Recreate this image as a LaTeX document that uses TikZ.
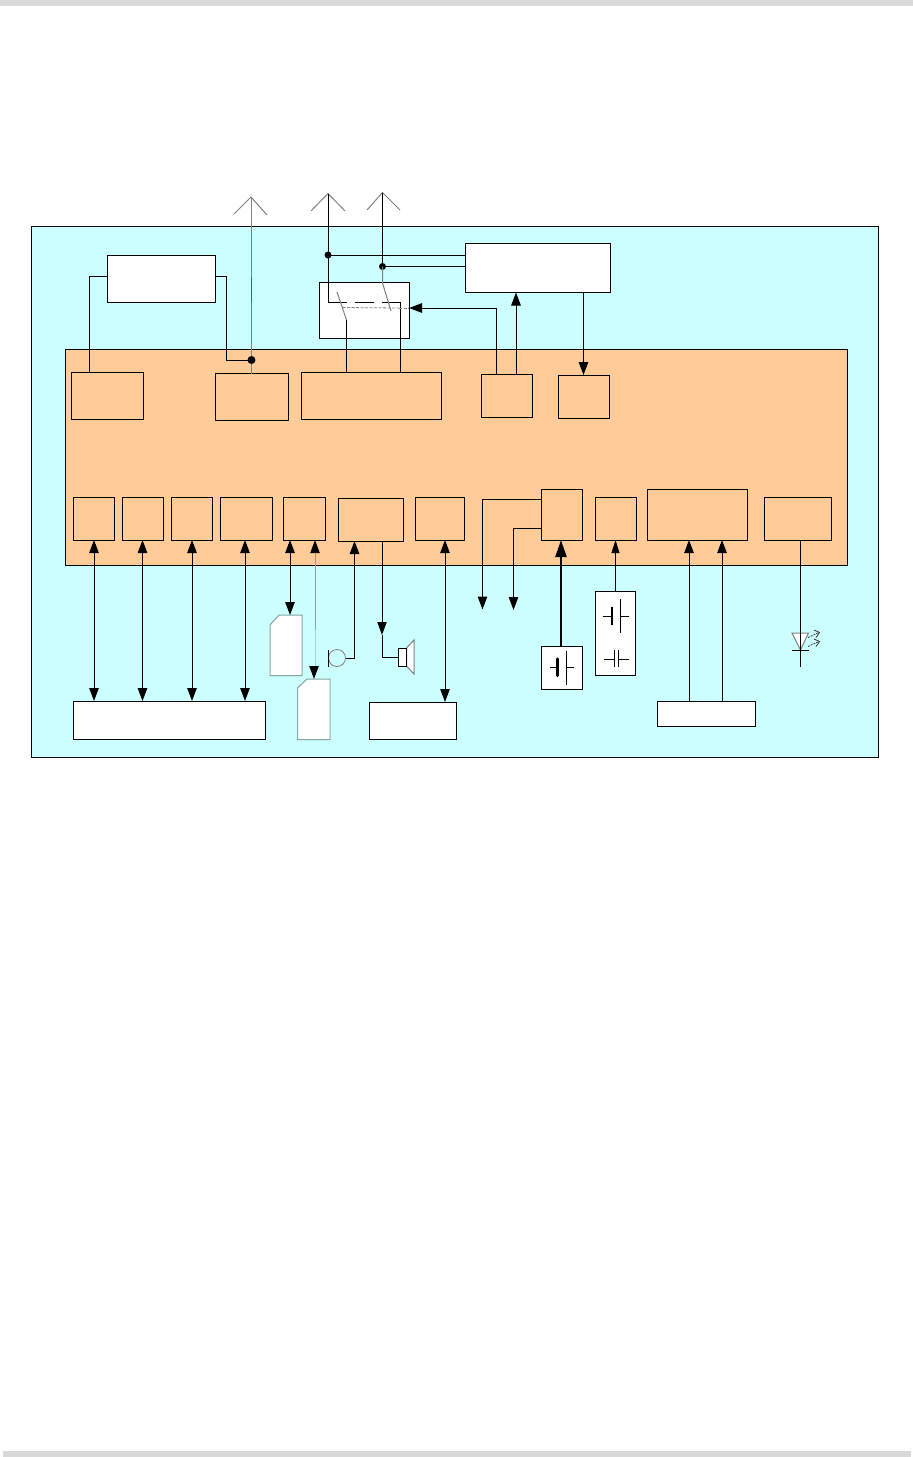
\documentclass[tikz,border=0pt]{standalone}
\usetikzlibrary{arrows.meta,calc}
\definecolor{panel}{HTML}{CCFFFF}
\definecolor{core}{HTML}{FFCC99}
\definecolor{bar}{HTML}{D9D9D9}
\definecolor{soft}{HTML}{808080}
\definecolor{softcy}{HTML}{86A3A3}
\definecolor{palecy}{HTML}{A8D4D4}
\tikzset{
  bx/.style={draw=black,line width=1pt,inner sep=0pt,outer sep=0pt,anchor=north west},
  whitebx/.style={bx,fill=white},
  corebx/.style={bx,fill=core},
  wire/.style={draw=black,line width=1pt},
  softwire/.style={draw=soft,line width=1pt},
  head/.tip={Triangle[length=13pt,width=9.5pt]},
  one/.style={wire,-{head}},
  both/.style={wire,{head}-{head}},
  dot/.style={circle,fill=black,inner sep=0pt,minimum size=#1},
  card/.style={fill=white,draw=softcy,line width=1pt,line join=miter},
}
\newcommand{\bx}[6][corebx]{\node[#1,minimum width={(#5-#3)*1pt},minimum height={(#6-#4)*1pt}] (#2) at (#3,#4) {};}
\begin{document}
\begin{tikzpicture}[x=1pt,y=-1pt]
\useasboundingbox (0,0) rectangle (913,1457);
\fill[bar] (0,0) rectangle (913,6);
\fill[bar] (3,1451) rectangle (911,1457);
\bx[bx,fill=panel]{outer}{31}{226}{878}{757}
\bx[bx,fill=core]{main}{65}{349}{847.5}{565.5}
% top row blocks
\bx{rfa}{71}{372}{143}{419}
\bx{rfb}{215}{373.5}{288}{420}
\bx{rfc}{301}{372}{441}{419}
\bx{rfd}{481}{374}{532}{417}
\bx{rfe}{558}{375}{609}{418}
% bottom row blocks
\bx{pa}{73}{497}{114.5}{540}
\bx{pb}{122}{497}{163.5}{540}
\bx{pc}{171}{497}{212.5}{540}
\bx{pd}{220}{497}{272.5}{540}
\bx{pe}{283}{497}{325}{540}
\bx{pf}{338}{498}{403}{541}
\bx{pg}{415}{497}{464.5}{540}
\bx{ph}{541}{489}{582}{540}
\bx{pi}{595}{497}{636}{540}
\bx{pj}{647}{489}{747.5}{540}
\bx{pk}{764}{497}{831}{540}
% white blocks
\bx[whitebx]{filt}{107}{255}{215.5}{302}
\bx[whitebx]{sw}{319}{282}{409}{338}
\bx[whitebx]{trans}{465}{243}{610.5}{292.5}
\bx[whitebx]{conn}{73}{701}{265}{739}
\bx[whitebx]{ext}{369}{702}{456}{739}
\bx[whitebx]{keys}{657}{701}{755}{726}
\bx[whitebx]{batone}{541}{646}{582}{689}
\bx[whitebx]{battwo}{595}{591}{635.5}{675}
% named free points
\coordinate (j1) at (251.5,360);
\coordinate (j2) at (328,255);
\coordinate (j3) at (382.5,266.5);
\coordinate (an1) at (251,197);
\coordinate (an2) at (328,193.5);
\coordinate (an3) at (382.5,192.5);
\coordinate (swin) at (328,302);
\coordinate (swgap) at (346.5,302);
\coordinate (swb) at (346.5,320);
\coordinate (swc) at (400.5,302);
\coordinate (swtop) at (382.5,283);
\coordinate (outa) at (482.5,609.5);
\coordinate (outb) at (513.5,610);
\coordinate (mic) at (337,658);
\coordinate (spk) at (398.5,657);
\coordinate (ledtop) at (800.5,540);
\coordinate (ledend) at (800.5,667);
% SIM cards
\draw[card] (270,625) -- (279,615) -- (302,615) -- (302,675.5) -- (270,675.5) -- cycle;
\draw[card] (297.5,688) -- (307,679) -- (330,679) -- (330,739.5) -- (297.5,739.5) -- cycle;
\draw[palecy,line width=1pt] (330,680) -- (330,739);
% antennas
\draw[softwire] (234,214) -- (an1) -- (267,215);
\draw[softwire] (311,211) -- (an2) -- (345,211);
\draw[softwire] (367,210) -- (an3) -- (400,210);
\draw[softwire] (an1) -- (rfb.north -| an1);
\draw[draw=black!65,line width=1pt] (an1 |- 0,277) -- (an1 |- 0,302);
\draw[wire] (rfa.north -| 89,0) |- (filt.west |- 0,276);
\draw[wire] (filt.east |- 0,276) -- (226,276) |- (j1);
\node[dot=8pt] (jd1) at (j1) {};
\draw[wire] (an2) -- (swin) -- (swgap);
\draw[wire] (355,302) -- (374,302);
\draw[wire] (382,302) -- (swc) -- (rfc.north -| swc);
\draw[wire] (an3) -- (j3);
\draw[wire] (j2) -- (trans.west |- j2);
\draw[wire] (j3) -- (trans.west |- j3);
\node[dot=7pt] (jd2) at (j2) {};
\node[dot=7pt] (jd3) at (j3) {};
\draw[softwire] (j3) -- (swtop) -- (391,311);
\draw[softwire] (337,292) -- (swb);
\draw[wire] (swb) -- (rfc.north -| swb);
\draw[soft,line width=.8pt,dash pattern=on 3pt off 1.5pt] (342.5,307.5) -- (399,308);
% control arrows
\draw[one] (rfd.north -| 496.5,0) |- (sw.east |- 0,308);
\draw[soft,line width=.8pt,dash pattern=on 3pt off 1.5pt] (399,308) -- (409,308);
\draw[one] (rfd.north -| 516,0) -- (trans.south -| 516,0);
\draw[one] (trans.south -| 583.5,0) -- (rfe.north -| 583.5,0);
% bottom bus
\draw[both] (pa.south -| 94,0) -- (conn.north -| 94,0);
\draw[both] (pb.south -| 142.5,0) -- (conn.north -| 142.5,0);
\draw[both] (pc.south -| 192,0) -- (conn.north -| 192,0);
\draw[both] (pd.south -| 245,0) -- (conn.north -| 245,0);
\draw[both] (pe.south -| 290,0) -- (290,615);
\draw[draw=softcy,line width=1pt] (315,552) -- (315,630);
\draw[draw=palecy,line width=1pt] (315,630) -- (315,668);
\fill (315,540) -- (310.2,553) -- (319.8,553) -- cycle;
\fill (314,679) -- (309.2,666) -- (318.8,666) -- cycle;
\draw[both] (pg.south -| 445,0) -- (ext.north -| 445,0);
% mic & speaker
\draw[one] (mic) ++(8.5,0) -- (354.5,658) -- (pf.south -| 354.5,0);
\draw[soft,line width=.8pt] (mic) circle[radius=8.5];
\draw[wire] (328,650) -- (328,667);
\draw[wire] (pf.south -| 382,0) -- (382,622);
\fill (382,635) -- (377.2,622) -- (386.8,622) -- cycle;
\draw[wire] (382,635) |- (spk);
\draw[softwire,fill=white] (406.5,648) -- (414,640) -- (414,674) -- (406.5,666) -- cycle;
\draw[wire,fill=white] (398.5,648) rectangle (406.5,666.5);
% branch outputs
\draw[one] (ph.west |- 0,499) -| (outa);
\draw[one] (ph.west |- 0,528) -| (outb);
% batteries
\draw[draw=black,line width=2.4pt,-{Triangle[length=17pt,width=11pt]}] (batone.north -| 561,0) -- (ph.south -| 561,0);
\draw[wire,-{Triangle[length=13pt,width=8pt]}] (battwo.north -| 615.5,0) -- (pi.south -| 615.5,0);
\draw[wire] (550,667.5) -- (557,667.5);
\draw[line width=3.5pt,line cap=round] (557.7,659) -- (557.7,675.5);
\draw[wire] (566.5,650.5) -- (566.5,685);
\draw[wire] (566.5,667.5) -- (574,667.5);
\draw[wire] (603,616) -- (612,616);
\draw[line width=2pt] (612,607) -- (612,625);
\draw[wire] (620.5,599) -- (620.5,633);
\draw[wire] (620.5,616) -- (629,616);
\draw[wire] (604,659.5) -- (614.5,659.5);
\draw[wire] (614.5,650) -- (614.5,667);
\draw[wire] (618.5,650) -- (618.5,667);
\draw[wire] (618.5,659.5) -- (629,659.5);
% keypad
\draw[one] (keys.north -| 689,0) -- (pj.south -| 689,0);
\draw[one] (keys.north -| 722,0) -- (pj.south -| 722,0);
% LED
\draw[softwire,fill=white] (792,633) -- (808.5,633) -- (800.5,650) -- cycle;
\draw[wire] (pk.south -| ledtop) -- (ledend);
\draw[wire] (792,650) -- (809,650);
\draw[draw=black!80,line width=.8pt,dash pattern=on 2pt off 1pt] (808,637.5) -- (819,632.5);
\draw[draw=black!80,line width=.8pt] (814,630) -- (819.5,632.5) -- (816,637.5);
\draw[draw=black!80,line width=.8pt,dash pattern=on 2pt off 1pt] (808,646.5) -- (819,641.5);
\draw[draw=black!80,line width=.8pt] (814,639) -- (819.5,641.5) -- (816,646.5);
\end{tikzpicture}
\end{document}
